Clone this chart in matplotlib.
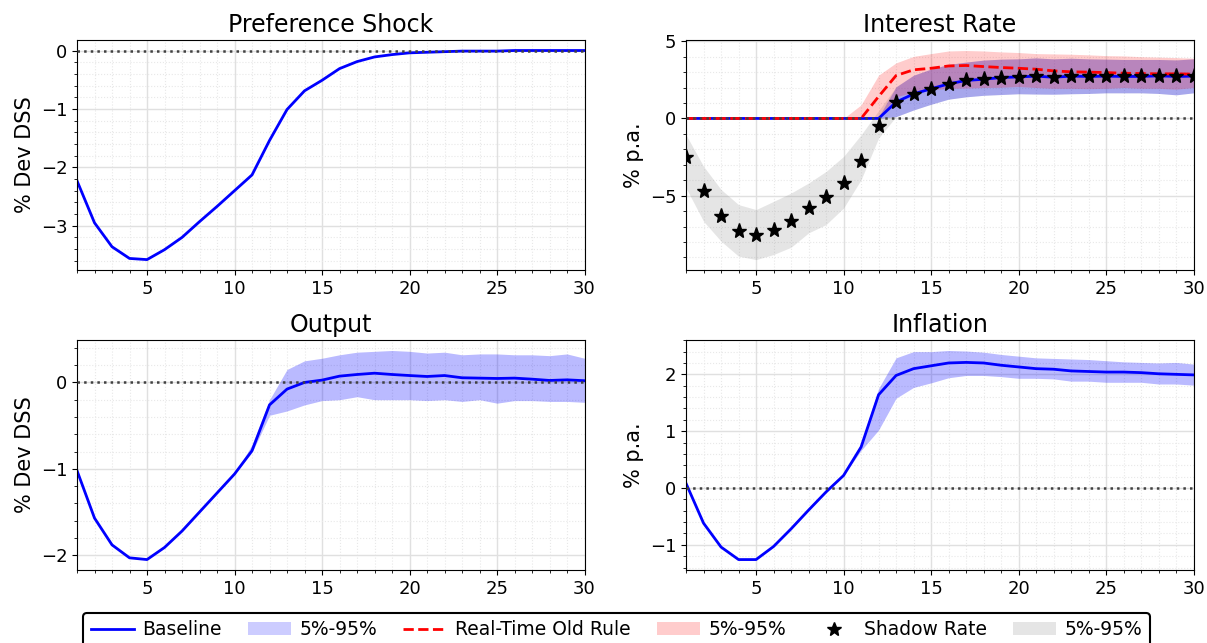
import matplotlib
matplotlib.use("Agg")
import matplotlib.pyplot as plt
import numpy as np
from matplotlib.lines import Line2D
from matplotlib.patches import Patch
from matplotlib.ticker import MultipleLocator, AutoMinorLocator

t = np.arange(1, 31)

# Preference shock (% Dev DSS)
pref = [-2.23, -2.95, -3.36, -3.56, -3.58, -3.41, -3.20, -2.93, -2.67, -2.40,
        -2.13, -1.54, -1.01, -0.69, -0.51, -0.31, -0.19, -0.11, -0.07, -0.04,
        -0.03, -0.02, -0.01, -0.01, -0.01, 0.0, 0.0, 0.0, 0.0, 0.0]

# Interest rate (% p.a.)
rate_base = [0, 0, 0, 0, 0, 0, 0, 0, 0, 0, 0, 0, 1.06, 1.59, 1.92, 2.24, 2.46, 2.54,
             2.65, 2.69, 2.74, 2.67, 2.74, 2.72, 2.74, 2.72, 2.72, 2.76, 2.72, 2.74]
rate_base_lo = [0, 0, 0, 0, 0, 0, 0, 0, 0, 0, 0, 0, 0.12, 0.55, 0.92, 1.25, 1.40, 1.50,
                1.55, 1.60, 1.58, 1.57, 1.60, 1.62, 1.66, 1.66, 1.66, 1.62, 1.53, 1.66]
rate_base_hi = [0, 0, 0, 0, 0, 0, 0, 0, 0, 0, 0, 0.10, 2.05, 2.80, 3.20, 3.50, 3.65, 3.78,
                3.84, 3.86, 3.92, 3.86, 3.90, 3.86, 3.84, 3.82, 3.82, 3.82, 3.79, 3.86]
rate_old = [0, 0, 0, 0, 0, 0, 0, 0, 0, 0, 0, 1.42, 2.78, 3.15, 3.25, 3.40, 3.43, 3.36,
            3.30, 3.25, 3.19, 3.08, 3.02, 3.00, 2.97, 2.93, 2.91, 2.89, 2.89, 2.87]
rate_old_lo = [0, 0, 0, 0, 0, 0, 0, 0, 0, 0, 0, 0, 1.40, 1.70, 1.85, 1.95, 1.97, 2.00,
               2.02, 2.07, 2.00, 1.95, 1.95, 1.93, 1.95, 2.00, 1.95, 1.95, 1.90, 2.00]
rate_old_hi = [0, 0, 0, 0, 0, 0, 0, 0, 0, 0, 0.88, 2.80, 3.60, 4.02, 4.20, 4.37, 4.40, 4.37,
               4.31, 4.27, 4.20, 4.18, 4.16, 4.12, 4.07, 4.05, 4.00, 3.97, 3.94, 3.90]
shadow = [-2.52, -4.72, -6.29, -7.26, -7.56, -7.20, -6.62, -5.80, -5.11, -4.18,
          -2.78, -0.47, 1.06, 1.59, 1.92, 2.24, 2.46, 2.54, 2.65, 2.69,
          2.74, 2.67, 2.74, 2.72, 2.74, 2.72, 2.72, 2.76, 2.72, 2.74]
shadow_lo = [-4.50, -6.66, -7.95, -8.92, -9.14, -8.81, -8.34, -7.41, -6.87, -5.80,
             -3.97, -1.27, 0.12, 0.55, 0.92, 1.25, 1.40, 1.50, 1.55, 1.60,
             1.58, 1.57, 1.60, 1.62, 1.66, 1.66, 1.66, 1.62, 1.53, 1.66]
shadow_hi = [-1.06, -3.10, -4.60, -5.58, -5.90, -5.37, -4.83, -4.18, -3.43, -2.46,
             -1.06, 0.50, 2.05, 2.80, 3.20, 3.50, 3.65, 3.78, 3.84, 3.86,
             3.92, 3.86, 3.90, 3.86, 3.84, 3.82, 3.82, 3.82, 3.79, 3.86]

# Output (% Dev DSS)
out = [-1.02, -1.57, -1.88, -2.03, -2.05, -1.91, -1.72, -1.50, -1.28, -1.06,
       -0.79, -0.26, -0.077, 0.0, 0.027, 0.073, 0.092, 0.107, 0.092, 0.080,
       0.069, 0.080, 0.054, 0.050, 0.046, 0.050, 0.038, 0.023, 0.030, 0.020]
out_lo = [-1.02, -1.57, -1.88, -2.03, -2.05, -1.91, -1.72, -1.50, -1.28, -1.06,
          -0.81, -0.38, -0.33, -0.26, -0.21, -0.20, -0.165, -0.20, -0.20, -0.20,
          -0.21, -0.20, -0.22, -0.20, -0.24, -0.21, -0.21, -0.22, -0.22, -0.23]
out_hi = [-1.02, -1.57, -1.88, -2.03, -2.05, -1.91, -1.72, -1.50, -1.28, -1.06,
          -0.72, -0.20, 0.15, 0.25, 0.28, 0.32, 0.35, 0.36, 0.37, 0.36,
          0.34, 0.35, 0.32, 0.33, 0.33, 0.32, 0.32, 0.31, 0.33, 0.28]

# Inflation (% p.a.)
infl = [0.08, -0.62, -1.04, -1.26, -1.26, -1.03, -0.72, -0.39, -0.07, 0.22,
        0.72, 1.64, 1.98, 2.10, 2.15, 2.20, 2.21, 2.20, 2.16, 2.13,
        2.10, 2.09, 2.06, 2.05, 2.04, 2.04, 2.03, 2.01, 2.00, 1.99]
infl_lo = [0.08, -0.62, -1.04, -1.26, -1.26, -1.03, -0.72, -0.39, -0.07, 0.22,
           0.66, 1.02, 1.58, 1.77, 1.85, 1.94, 1.98, 1.98, 1.96, 1.93,
           1.93, 1.92, 1.88, 1.88, 1.86, 1.86, 1.86, 1.83, 1.83, 1.81]
infl_hi = [0.08, -0.62, -1.04, -1.26, -1.26, -1.03, -0.72, -0.39, -0.07, 0.22,
           0.79, 1.75, 2.29, 2.40, 2.40, 2.42, 2.41, 2.39, 2.35, 2.32,
           2.29, 2.28, 2.27, 2.26, 2.24, 2.22, 2.21, 2.20, 2.21, 2.18]

titles = ["Preference Shock", "Interest Rate", "Output", "Inflation"]
ylabels = ["% Dev DSS", "% p.a.", "% Dev DSS", "% p.a."]
legend_labels = ["Baseline", "5%-95%", "Real-Time Old Rule", "5%-95%", "Shadow Rate", "5%-95%"]

BAND_A = 0.27
fig = plt.figure(figsize=(12.07, 6.43), dpi=100)
W, H = 0.4205, 0.3577
ax1 = fig.add_axes([0.0638, 0.580, W, H])
ax2 = fig.add_axes([0.5684, 0.580, W, H])
ax3 = fig.add_axes([0.0638, 0.1135, W, H])
ax4 = fig.add_axes([0.5684, 0.1135, W, H])
axes = [ax1, ax2, ax3, ax4]

ax1.plot(t, pref, color="blue", lw=2)

ax2.fill_between(t, shadow_lo, shadow_hi, color="gray", alpha=0.2, lw=0)
ax2.fill_between(t, rate_base_lo, rate_base_hi, color="blue", alpha=BAND_A, lw=0)
ax2.fill_between(t, rate_old_lo, rate_old_hi, color="red", alpha=0.2, lw=0)
ax2.plot(t, rate_base, color="blue", lw=2)
ax2.plot(t, rate_old, color="red", lw=2, ls="--")
ax2.plot(t, shadow, ls="none", marker="*", color="black", ms=11, zorder=6)

ax3.fill_between(t, out_lo, out_hi, color="blue", alpha=BAND_A, lw=0)
ax3.plot(t, out, color="blue", lw=2)

ax4.fill_between(t, infl_lo, infl_hi, color="blue", alpha=BAND_A, lw=0)
ax4.plot(t, infl, color="blue", lw=2)

ax2.yaxis.set_major_locator(MultipleLocator(5))
ax3.yaxis.set_major_locator(MultipleLocator(1))

for ax, ti, yl in zip(axes, titles, ylabels):
    ax.axhline(0, color="#404040", ls=":", lw=1.8, zorder=5)
    ax.set_xlim(1, 30)
    ax.set_xticks([5, 10, 15, 20, 25, 30])
    ax.xaxis.set_minor_locator(MultipleLocator(1))
    ax.yaxis.set_minor_locator(AutoMinorLocator(5))
    ax.grid(True, which="major", color="#e0e0e0", lw=1)
    ax.grid(True, which="minor", color="#e8e8e8", lw=0.8, ls=":")
    ax.set_axisbelow(True)
    ax.set_title(ti, fontsize=17)
    ax.set_ylabel(yl, fontsize=15)
    ax.tick_params(labelsize=13)

handles = [
    Line2D([], [], color="blue", lw=2),
    Patch(facecolor="blue", alpha=0.2, lw=0),
    Line2D([], [], color="red", lw=2, ls="--"),
    Patch(facecolor="red", alpha=0.2, lw=0),
    Line2D([], [], color="black", marker="*", ls="none", ms=10),
    Patch(facecolor="gray", alpha=0.2, lw=0),
]
leg = fig.legend(handles, legend_labels, loc="upper center", bbox_to_anchor=(0.5108, 0.0467),
                 ncol=6, fontsize=13.5, frameon=True, edgecolor="black", framealpha=1,
                 borderaxespad=0, columnspacing=1.4, handlelength=2.3, handletextpad=0.45)
leg.get_frame().set_linewidth(1.5)

fig.savefig("out.png", dpi=100)
